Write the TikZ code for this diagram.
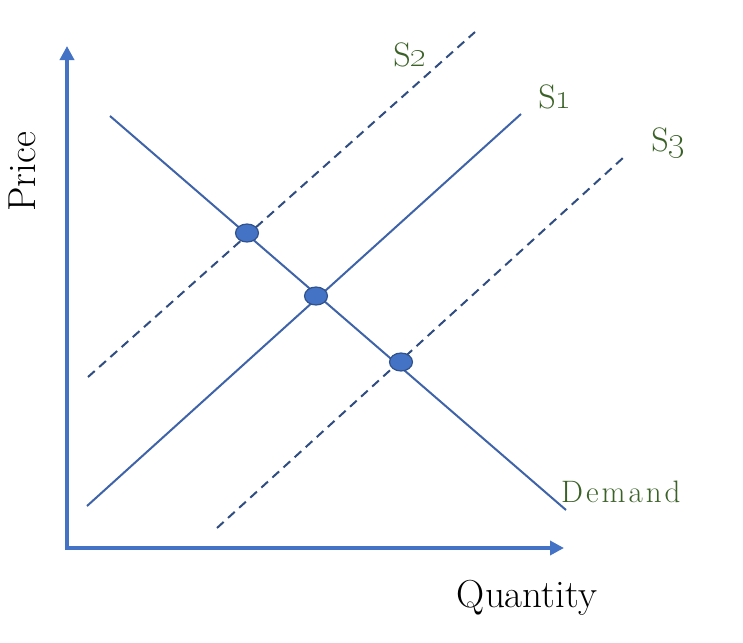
\documentclass[tikz,border=0pt]{standalone}
\usetikzlibrary{arrows.meta,shapes.geometric}
\definecolor{axisblue}{HTML}{4472C4}
\definecolor{lineblue}{HTML}{3E63A8}
\definecolor{dashblue}{HTML}{2F4D80}
\definecolor{dotedge}{HTML}{2F528F}
\definecolor{lblgreen}{HTML}{3A6126}
\tikzset{
  axisline/.style={axisblue, line width=4.5pt, -{Triangle[length=14pt,width=14pt]}},
  curve/.style={lineblue, line width=2pt},
  dcurve/.style={dashblue, line width=2pt, dash pattern=on 9pt off 6pt},
  eqdot/.style={ellipse, fill=axisblue, draw=dotedge, line width=1.2pt, minimum width=23pt, minimum height=18pt, inner sep=0pt},
  slabel/.style={text=lblgreen, font=\fontsize{34}{37}\selectfont, inner sep=0pt},
  axlabel/.style={text=black, font=\fontsize{39}{42}\selectfont, inner sep=0pt}
}
\begin{document}
\begin{tikzpicture}[x=1pt,y=-1pt]
\useasboundingbox (0,0) rectangle (743,642);
% axes
\coordinate (Ytop) at (67,46);
\coordinate (Xend) at (564,548);
\coordinate (Ybot) at (67,550);
\coordinate (Xbeg) at (65,548);
\draw[axisline] (Ybot) -- (Ytop);
\draw[axisline] (Xbeg) -- (Xend);
% curves
\coordinate (D1) at (110,116);
\coordinate (D2) at (566,510);
\coordinate (Sa1) at (87,506);
\coordinate (Sa2) at (521,114);
\coordinate (Sb1) at (88,377);
\coordinate (Sb2) at (475,32);
\coordinate (Sc1) at (217,528);
\coordinate (Sc2) at (624,157);
\draw[dcurve] (Sb1) -- (Sb2);
\draw[dcurve] (Sc1) -- (Sc2);
\draw[curve] (D1) -- (D2);
\draw[curve] (Sa1) -- (Sa2);
% equilibrium dots
\node[eqdot] (e2) at (247,233) {};
\node[eqdot] (e1) at (316,296) {};
\node[eqdot] (e3) at (401,362) {};
% labels
\node[slabel] (ls2) at (410,55) {S\oldstylenums{2}};
\node[slabel] (ls1) at (555,97) {S\oldstylenums{1}};
\node[slabel] (ls3) at (668,143) {S\oldstylenums{3}};
\node[slabel, anchor=west, font=\fontsize{31}{34}\selectfont] (ld) at (561,492) {D\kern3pt e\kern3pt m\kern3pt a\kern3pt n\kern3pt d};
\node[axlabel, rotate=90] (lp) at (22,172) {Price};
\node[axlabel] (lq) at (527,598) {Quantity};
\end{tikzpicture}
\end{document}
